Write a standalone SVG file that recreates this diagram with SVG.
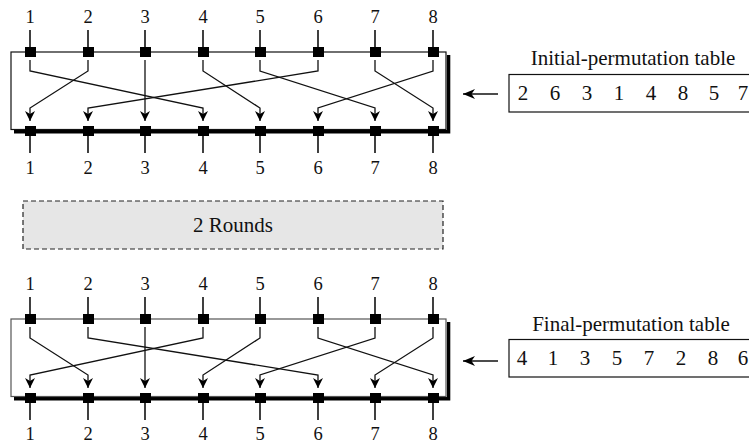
<svg xmlns="http://www.w3.org/2000/svg" width="749" height="444" viewBox="0 0 749 444">
<style>
text{font-family:"Liberation Serif","Times New Roman",serif;fill:#111}
.lbl{font-size:18.5px;text-anchor:middle}
.tbl{font-size:21px}
.big{font-size:21px;text-anchor:middle}
.frame{fill:none;stroke:#111;stroke-width:1.2}
.shadow{fill:none;stroke:#000;stroke-width:3.4}
.stub{stroke:#111;stroke-width:1.6}
.wire{fill:none;stroke:#111;stroke-width:1.3;marker-end:url(#ah)}
.sq{fill:#000}
</style>
<defs>
<marker id="ah" viewBox="0 0 10 10" refX="10" refY="5" markerWidth="10" markerHeight="10" markerUnits="userSpaceOnUse" orient="auto">
<path d="M0,0 L10,5 L0,10 L3,5 Z" fill="#000"/>
</marker>
<marker id="ah2" viewBox="0 0 12 10" refX="12" refY="5" markerWidth="12" markerHeight="10" markerUnits="userSpaceOnUse" orient="auto">
<path d="M0,0 L12,5 L0,10 L3.5,5 Z" fill="#000"/>
</marker>
</defs>

<g id="initial-permutation">
<g class="labels-in">
<text class="lbl" x="30" y="23">1</text><text class="lbl" x="88" y="23">2</text><text class="lbl" x="145" y="23">3</text><text class="lbl" x="203" y="23">4</text><text class="lbl" x="260" y="23">5</text><text class="lbl" x="318" y="23">6</text><text class="lbl" x="375" y="23">7</text><text class="lbl" x="433" y="23">8</text>
</g>
<path class="shadow" d="M14,131.8 H448.6 V55"/>
<rect class="frame" x="11" y="52" width="435" height="77.5"/>
<path class="stub" d="M30,30V52M88,30V52M145,30V52M203,30V52M260,30V52M318,30V52M375,30V52M433,30V52"/>
<path class="stub" d="M30,131V153M88,131V153M145,131V153M203,131V153M260,131V153M318,131V153M375,131V153M433,131V153"/>
<g class="sq">
<rect x="25" y="47" width="11" height="10"/><rect x="83" y="47" width="11" height="10"/><rect x="140" y="47" width="11" height="10"/><rect x="198" y="47" width="11" height="10"/><rect x="255" y="47" width="11" height="10"/><rect x="313" y="47" width="11" height="10"/><rect x="370" y="47" width="11" height="10"/><rect x="428" y="47" width="11" height="10"/>
<rect x="25" y="126" width="11" height="10"/><rect x="83" y="126" width="11" height="10"/><rect x="140" y="126" width="11" height="10"/><rect x="198" y="126" width="11" height="10"/><rect x="255" y="126" width="11" height="10"/><rect x="313" y="126" width="11" height="10"/><rect x="370" y="126" width="11" height="10"/><rect x="428" y="126" width="11" height="10"/>
</g>
<g class="labels-out">
<text class="lbl" x="30" y="174">1</text><text class="lbl" x="88" y="174">2</text><text class="lbl" x="145" y="174">3</text><text class="lbl" x="203" y="174">4</text><text class="lbl" x="260" y="174">5</text><text class="lbl" x="318" y="174">6</text><text class="lbl" x="375" y="174">7</text><text class="lbl" x="433" y="174">8</text>
</g>
</g>

<g id="initial-table">
<text class="tbl" x="633" y="65" text-anchor="middle">Initial-permutation table</text>
<rect x="509" y="74.5" width="250" height="37.5" fill="none" stroke="#111" stroke-width="1.2"/>
<text class="tbl" y="100" text-anchor="middle"><tspan x="523">2</tspan><tspan x="555">6</tspan><tspan x="587">3</tspan><tspan x="619">1</tspan><tspan x="651">4</tspan><tspan x="683">8</tspan><tspan x="714">5</tspan><tspan x="743">7</tspan></text>
</g>

<g id="rounds">
<rect x="23" y="201" width="420" height="48" fill="#e6e6e6" stroke="#222" stroke-width="1.2" stroke-dasharray="5,3"/>
<text class="big" x="233" y="232">2 Rounds</text>
</g>

<g id="final-permutation">
<g class="labels-in">
<text class="lbl" x="30" y="290">1</text><text class="lbl" x="88" y="290">2</text><text class="lbl" x="145" y="290">3</text><text class="lbl" x="203" y="290">4</text><text class="lbl" x="260" y="290">5</text><text class="lbl" x="318" y="290">6</text><text class="lbl" x="375" y="290">7</text><text class="lbl" x="433" y="290">8</text>
</g>
<path class="shadow" d="M14,398.8 H448.6 V322"/>
<rect x="11" y="319" width="435" height="77.5" fill="none" stroke="#555" stroke-width="1.2"/>
<path class="stub" d="M30,297V319M88,297V319M145,297V319M203,297V319M260,297V319M318,297V319M375,297V319M433,297V319"/>
<path class="stub" d="M30,398V420M88,398V420M145,398V420M203,398V420M260,398V420M318,398V420M375,398V420M433,398V420"/>
<g class="sq">
<rect x="25" y="314" width="11" height="10"/><rect x="83" y="314" width="11" height="10"/><rect x="140" y="314" width="11" height="10"/><rect x="198" y="314" width="11" height="10"/><rect x="255" y="314" width="11" height="10"/><rect x="313" y="314" width="11" height="10"/><rect x="370" y="314" width="11" height="10"/><rect x="428" y="314" width="11" height="10"/>
<rect x="25" y="393" width="11" height="10"/><rect x="83" y="393" width="11" height="10"/><rect x="140" y="393" width="11" height="10"/><rect x="198" y="393" width="11" height="10"/><rect x="255" y="393" width="11" height="10"/><rect x="313" y="393" width="11" height="10"/><rect x="370" y="393" width="11" height="10"/><rect x="428" y="393" width="11" height="10"/>
</g>
<g class="labels-out">
<text class="lbl" x="30" y="440">1</text><text class="lbl" x="88" y="440">2</text><text class="lbl" x="145" y="440">3</text><text class="lbl" x="203" y="440">4</text><text class="lbl" x="260" y="440">5</text><text class="lbl" x="318" y="440">6</text><text class="lbl" x="375" y="440">7</text><text class="lbl" x="433" y="440">8</text>
</g>
</g>

<g id="final-table">
<text class="tbl" x="631" y="331" text-anchor="middle">Final-permutation table</text>
<rect x="509" y="339.5" width="250" height="37.5" fill="none" stroke="#111" stroke-width="1.2"/>
<text class="tbl" y="365" text-anchor="middle"><tspan x="522">4</tspan><tspan x="553">1</tspan><tspan x="585">3</tspan><tspan x="617">5</tspan><tspan x="649">7</tspan><tspan x="681">2</tspan><tspan x="713">8</tspan><tspan x="743">6</tspan></text>
</g>

<g id="connectors">
<g id="wires-initial">
<path class="wire" d="M88,60V71L30,108V121"/>
<path class="wire" d="M318,60V71L88,108V121"/>
<path class="wire" d="M145,60V121"/>
<path class="wire" d="M30,60V71L203,108V121"/>
<path class="wire" d="M203,60V71L260,108V121"/>
<path class="wire" d="M433,60V71L318,108V121"/>
<path class="wire" d="M260,60V71L375,108V121"/>
<path class="wire" d="M375,60V71L433,108V121"/>
</g>
<g id="wires-final">
<path class="wire" d="M203,327V338L30,375V388"/>
<path class="wire" d="M30,327V338L88,375V388"/>
<path class="wire" d="M145,327V388"/>
<path class="wire" d="M260,327V338L203,375V388"/>
<path class="wire" d="M375,327V338L260,375V388"/>
<path class="wire" d="M88,327V338L318,375V388"/>
<path class="wire" d="M433,327V338L375,375V388"/>
<path class="wire" d="M318,327V338L433,375V388"/>
</g>
<path d="M498,94H463" fill="none" stroke="#111" stroke-width="1.6" marker-end="url(#ah2)"/>
<path d="M498,361H463" fill="none" stroke="#111" stroke-width="1.6" marker-end="url(#ah2)"/>
</g>
</svg>
